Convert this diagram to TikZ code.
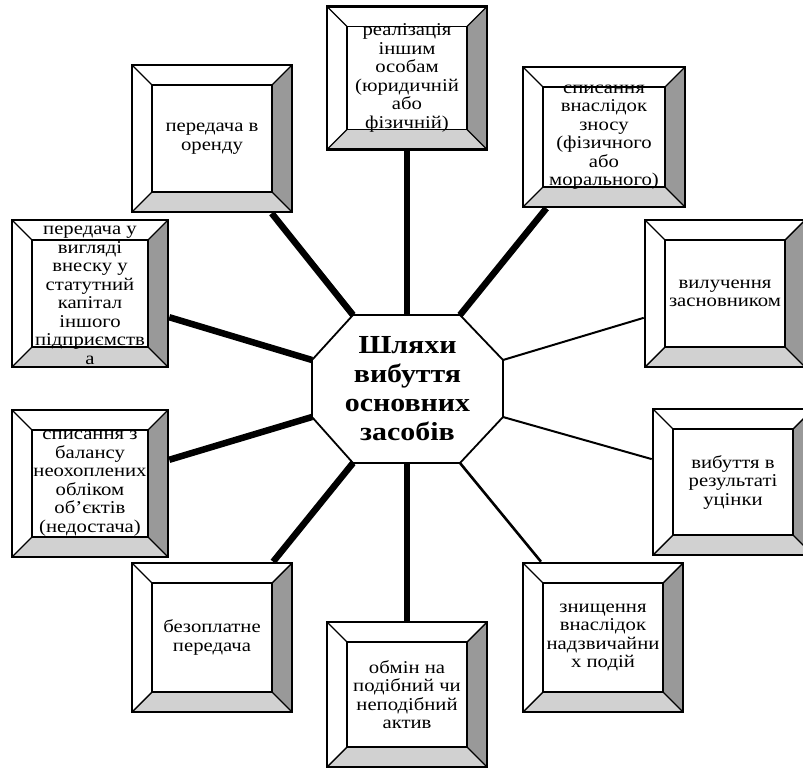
\documentclass[tikz,border=0pt]{standalone}
\usepackage{fontspec}
\setmainfont{Liberation Serif}[FakeStretch=1.15]

\definecolor{bevelshade}{gray}{0.6}
\definecolor{bevellight}{gray}{0.82}

\begin{document}
\begin{tikzpicture}[
    x = 1pt,
    y = -1pt,
    bevelbox/.style = {
      draw,
      line width = 2.6pt,
      fill = white,
      minimum width = 160pt,
      minimum height = 147pt,
      inner sep = 0pt,
      path picture = {
        \coordinate (bnw) at (path picture bounding box.north west);
        \coordinate (bne) at (path picture bounding box.north east);
        \coordinate (bse) at (path picture bounding box.south east);
        \coordinate (bsw) at (path picture bounding box.south west);
        \coordinate (inw) at ([shift={(20,20)}]bnw);
        \coordinate (ine) at ([shift={(-20,20)}]bne);
        \coordinate (ise) at ([shift={(-20,-20)}]bse);
        \coordinate (isw) at ([shift={(20,-20)}]bsw);
        \fill[bevelshade] (bne) -- (bse) -- (ise) -- (ine) -- cycle;
        \fill[bevellight] (bsw) -- (bse) -- (ise) -- (isw) -- cycle;
        \draw[line width = 1.5pt] (inw) rectangle (ise);
        \draw[line width = 1.4pt] (bnw) -- (inw) (bne) -- (ine) (bse) -- (ise) (bsw) -- (isw);
      }
    },
    boxtext/.style = {
      align = center,
      inner sep = 0pt,
      font = \fontsize{18}{18.5}\selectfont
    },
    hubtext/.style = {
      align = center,
      inner sep = 0pt,
      font = \bfseries\fontsize{26}{29}\selectfont
    },
    heavy/.style = {line width = 6.5pt},
    light/.style = {line width = 2pt}
  ]
  \useasboundingbox (0,0) rectangle (803,771);
  \fill[white] (0,0) rectangle (803,771);

  % octagon corners
  \coordinate (o-tl) at (353,315);
  \coordinate (o-tr) at (460,315);
  \coordinate (o-rt) at (503,360);
  \coordinate (o-rb) at (503,417);
  \coordinate (o-br) at (460,463);
  \coordinate (o-bl) at (353,463);
  \coordinate (o-lb) at (312,417);
  \coordinate (o-lt) at (312,360);
  \coordinate (o-t) at (407,315);
  \coordinate (o-b) at (407,463);

  % boxes
  \draw (407,78) node[bevelbox, minimum height = 143pt] (real) {}
    node[boxtext] (realtxt) {реалізація\\ іншим\\ особам\\ (юридичній\\ або\\ фізичній)};
  \draw (212,138.5) node[bevelbox] (lease) {}
    node[boxtext] (leasetxt) {передача в\\ оренду};
  \draw (604,137) node[bevelbox, minimum width = 162pt, minimum height = 140pt] (wear) {}
    node[boxtext] (weartxt) {списання\\ внаслідок\\ зносу\\ (фізичного\\ або\\ морального)};
  \draw (90,293.5) node[bevelbox, minimum width = 156pt] (contrib) {}
    node[boxtext, yshift = -2pt] (contribtxt) {передача у\\ вигляді\\ внеску у\\ статутний\\ капітал\\ іншого\\ підприємств\\ а};
  \draw (725,293.5) node[bevelbox] (founder) {}
    node[boxtext] (foundertxt) {вилучення\\ засновником};
  \draw (90,483.5) node[bevelbox, minimum width = 156pt] (shortage) {}
    node[boxtext] (shortagetxt) {списання з\\ балансу\\ неохоплених\\ обліком\\ об’єктів\\ (недостача)};
  \draw (733,482) node[bevelbox, minimum height = 146pt] (markdown) {}
    node[boxtext] (markdowntxt) {вибуття в\\ результаті\\ уцінки};
  \draw (212,637.5) node[bevelbox, minimum height = 149pt] (gratis) {}
    node[boxtext] (gratistxt) {безоплатне\\ передача};
  \draw (603,637.5) node[bevelbox, minimum height = 149pt] (disaster) {}
    node[boxtext] (disastertxt) {знищення\\ внаслідок\\ надзвичайни\\ х подій};
  \draw (407,694.5) node[bevelbox, minimum height = 145pt] (exchange) {}
    node[boxtext] (exchangetxt) {обмін на\\ подібний чи\\ неподібний\\ актив};

  % spokes
  \draw[heavy] (o-t) -- (real);
  \draw[heavy] (o-tl) -- (lease);
  \draw[heavy] (o-tr) -- (wear);
  \draw[heavy] (o-lt) -- (contrib);
  \draw[light] (o-rt) -- (founder);
  \draw[heavy] (o-lb) -- (shortage);
  \draw[light] (o-rb) -- (markdown);
  \draw[heavy] (o-bl) -- (gratis);
  \draw[light, line width = 2.6pt] (o-br) -- (disaster);
  \draw[heavy] (o-b) -- (exchange);

  % centre
  \draw[line width = 1.8pt, fill = white] (o-tl) -- (o-tr) -- (o-rt) -- (o-rb)
    -- (o-br) -- (o-bl) -- (o-lb) -- (o-lt) -- cycle;
  \draw (407.5,389) node[hubtext] (hub) {Шляхи\\ вибуття\\ основних\\ засобів};
\end{tikzpicture}
\end{document}
